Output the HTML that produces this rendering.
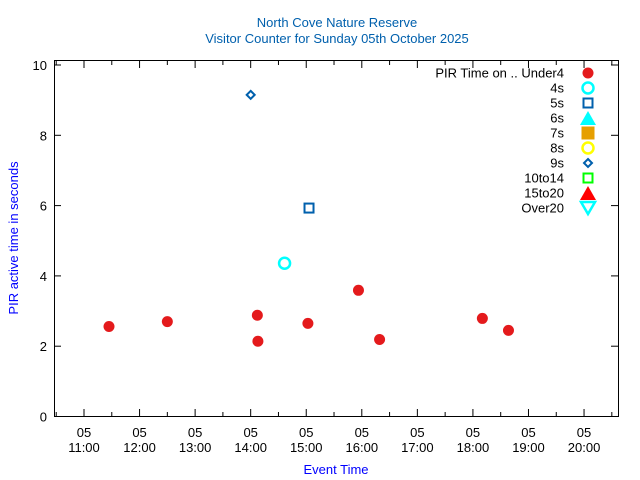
<!DOCTYPE html>
<html><head><meta charset="utf-8"><style>
body{margin:0;background:#fff}svg{display:block;font-family:"Liberation Sans",sans-serif}
</style></head><body>
<svg id="c" width="640" height="480">
<text x="337" y="27" font-size="13" fill="#0060ad" text-anchor="middle">North Cove Nature Reserve</text>
<text x="337" y="43" font-size="13" fill="#0060ad" text-anchor="middle">Visitor Counter for Sunday 05th October 2025</text>
<text x="336" y="474" font-size="13" fill="#0000ff" text-anchor="middle">Event Time</text>
<text transform="translate(18,238) rotate(-90)" font-size="13" fill="#0000ff" text-anchor="middle">PIR active time in seconds</text>
<rect x="54.5" y="60.5" width="564" height="356" fill="none" stroke="#000"/>
<g id="ax"></g><g id="marks"></g><g id="legend"></g>
</svg>
<script>
const xTickLabels=["11:00","12:00","13:00","14:00","15:00","16:00","17:00","18:00","19:00","20:00"];
const xTickHours=[11,12,13,14,15,16,17,18,19,20];
const yTicks=[0,2,4,6,8,10];
const under4Hours=[11.45,12.5,14.12,14.13,15.03,15.94,16.32,18.17,18.64];
const under4Values=[2.56,2.7,2.88,2.14,2.65,3.59,2.19,2.79,2.45];
const s4Hours=[14.61];const s4Values=[4.36];
const s5Hours=[15.05];const s5Values=[5.93];
const s9Hours=[14.0];const s9Values=[9.15];
const legendLabels=["PIR Time on .. Under4","4s","5s","6s","7s","8s","9s","10to14","15to20","Over20"];
const NS="http://www.w3.org/2000/svg";
const X=h=>84+(h-11)*55.56, Y=v=>416.5-v*35.15;
function mk(t,a,p){const e=document.createElementNS(NS,t);for(const k in a)e.setAttribute(k,a[k]);p.appendChild(e);return e;}
const ax=document.getElementById('ax');
yTicks.forEach(v=>{const y=Y(v);
 const t=mk('line',{x1:54,x2:61,y1:y,y2:y,stroke:'#000'},ax);
 
 
 const r=mk('line',{x1:611,x2:618,y1:y,y2:y,stroke:'#000'},ax);
 
 
 const l=mk('text',{x:47,y:y+5,'font-size':13,'text-anchor':'end'},ax);l.textContent=v;
 
 
});
for(let h=10.5;h<=21;h+=0.5){const x=X(h);if(x<55||x>617)continue;const len=(h%1===0)?7:4;
 const t=mk('line',{x1:x,x2:x,y1:416,y2:416-len,stroke:'#000'},ax);
 
 
 const tt=mk('line',{x1:x,x2:x,y1:61,y2:61+len,stroke:'#000'},ax);
 
 }
xTickHours.forEach((h,i)=>{const x=X(h);
 const a=mk('text',{x:x,y:437,'font-size':13,'text-anchor':'middle'},ax);a.textContent="05";
 
 
 const b=mk('text',{x:x,y:452,'font-size':13,'text-anchor':'middle'},ax);b.textContent=xTickLabels[i];
 
 });
const m=document.getElementById('marks');
function dot(x,y,p){return mk('circle',{cx:x,cy:y,r:5.5,fill:'#e41a1c'},p);}
function ring(x,y,p,c){return mk('circle',{cx:x,cy:y,r:5.5,fill:'none',stroke:c,'stroke-width':2.5},p);}
function sq(x,y,p,c){return mk('rect',{x:x-4.5,y:y-4.5,width:9,height:9,fill:'none',stroke:c,'stroke-width':2},p);}
function dia(x,y,p){return mk('path',{d:`M${x},${y-4}L${x+4},${y}L${x},${y+4}L${x-4},${y}Z`,fill:'none',stroke:'#0060ad','stroke-width':2},p);}
function tri(x,y,p,c){return mk('path',{d:`M${x-8},${y+7}L${x+8},${y+7}L${x},${y-7}Z`,fill:c},p);}
under4Hours.forEach((h,i)=>{const e=dot(X(h),Y(under4Values[i]),m);
 
 });
s4Hours.forEach((h,i)=>{const e=ring(X(h),Y(s4Values[i]),m,'#00ffff');
 
 });
s5Hours.forEach((h,i)=>{const e=sq(X(h),Y(s5Values[i]),m,'#0060ad');
 
 });
s9Hours.forEach((h,i)=>{const e=dia(X(h),Y(s9Values[i]),m);
 
 });
const lg=document.getElementById('legend');
legendLabels.forEach((s,i)=>{const y=73+i*15;
 const t=mk('text',{x:564,y:y+4.5,'font-size':13,'text-anchor':'end'},lg);t.textContent=s;
 
 
 const x=588;let e;
 if(i==0)e=dot(x,y,lg);else if(i==1)e=ring(x,y,lg,'#00ffff');else if(i==2)e=sq(x,y,lg,'#0060ad');
 else if(i==3)e=tri(x,y,lg,'#00ffff');else if(i==4)e=mk('rect',{x:x-6.5,y:y-6.5,width:13,height:13,fill:'#e69f00'},lg);
 else if(i==5)e=ring(x,y,lg,'#ffff00');else if(i==6)e=dia(x,y,lg);else if(i==7)e=sq(x,y,lg,'#00ff00');
 else if(i==8)e=tri(x,y,lg,'#ff0000');else e=mk('path',{d:`M${x-7},${y-6}L${x+7},${y-6}L${x},${y+6}Z`,fill:'none',stroke:'#00ffff','stroke-width':2.5},lg);
 
 });
</script>
</body></html>
